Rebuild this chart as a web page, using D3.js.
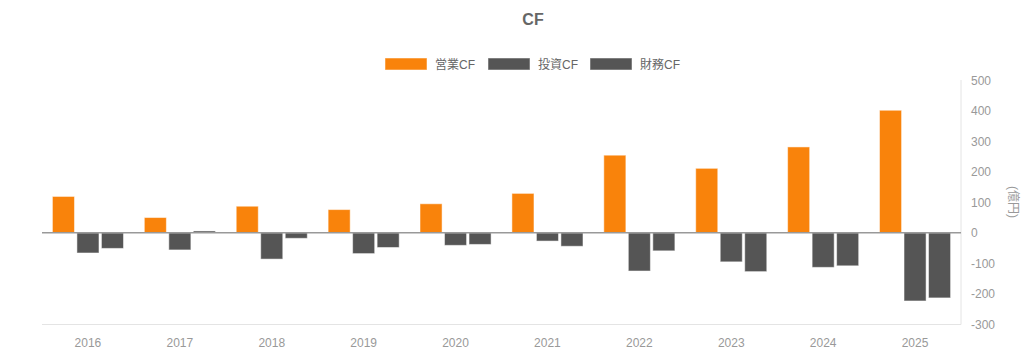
<!DOCTYPE html>
<html>
<head>
<meta charset="utf-8">
<script src="https://cdn.jsdelivr.net/npm/d3@7"></script>
<style>
  html,body{margin:0;padding:0;background:#fff;}
  svg{display:block;}
</style>
</head>
<body>
<svg id="chart" width="1024" height="355"></svg>
<script>
// data (億円)
const years=["2016","2017","2018","2019","2020","2021","2022","2023","2024","2025"];
const seriesNames=["営業CF","投資CF","財務CF"];
const operatingCF=[119,50,87,76,95,129,254,211,281,401];
const investingCF=[-66,-56,-86,-68,-41,-27,-125,-95,-113,-223];
const financingCF=[-51,6,-18,-48,-38,-44,-59,-127,-108,-213];
const yTicks=[500,400,300,200,100,0,-100,-200,-300];

const colors=["#f9830b","#555555","#555555"];
const FONT="'Liberation Sans', Arial, 'Noto Sans CJK JP', sans-serif";

const svg=d3.select("#chart");
const plot={left:42,right:961,top:80,bottom:324.5};

const x0=d3.scaleBand().domain(years).range([plot.left,plot.right]).padding(0);
const x1=d3.scaleBand().domain(seriesNames).range([0,x0.bandwidth()*0.8]);
const barW=x1.bandwidth()*0.9;
const y=d3.scaleLinear().domain([-300,500]).range([plot.bottom,plot.top]);

// title
svg.append("text").attr("x",533).attr("y",25)
  .attr("text-anchor","middle").attr("fill","#666")
  .style("font-family",FONT).style("font-size","16px").style("font-weight","bold")
  .text("CF");

// legend
const legendX=[385,488,590];
seriesNames.forEach((s,i)=>{
  const lg=svg.append("g").attr("transform",`translate(${legendX[i]},58)`);
  lg.append("rect").attr("width",42).attr("height",12)
    .attr("fill",colors[i]).attr("stroke","#fff").attr("stroke-opacity",0.5);
  lg.append("text").attr("x",50).attr("y",10.5).attr("fill","#666")
    .style("font-family",FONT).style("font-size","12px").text(s);
});

// bottom axis line and right axis line
svg.append("line").attr("x1",plot.left).attr("x2",plot.right)
  .attr("y1",y(-300)).attr("y2",y(-300)).attr("stroke","#e4e4e4").attr("stroke-width",1);
svg.append("line").attr("x1",plot.right).attr("x2",plot.right)
  .attr("y1",plot.top).attr("y2",y(-300)).attr("stroke","#e4e4e4").attr("stroke-width",1);

// right y axis tick labels
svg.append("g").selectAll("text.yt").data(yTicks).join("text").attr("class","yt")
  .attr("x",plot.right+10).attr("y",d=>y(d)+4.5)
  .attr("fill","#999")
  .style("font-family",FONT).style("font-size","12px")
  .text(d=>d);

// y axis title
svg.append("text").attr("transform",`translate(1009,202) rotate(90)`)
  .attr("text-anchor","middle").attr("fill","#999")
  .style("font-family",FONT).style("font-size","12px")
  .text("(億円)");

// x labels
svg.append("g").selectAll("text.xl").data(years).join("text").attr("class","xl")
  .attr("x",d=>x0(d)+x0.bandwidth()/2).attr("y",347)
  .attr("text-anchor","middle").attr("fill","#999")
  .style("font-family",FONT).style("font-size","12px")
  .text(d=>d);

// bars
const table=years.map((yr,i)=>({year:yr,values:[operatingCF[i],investingCF[i],financingCF[i]]}));
const groups=svg.append("g").selectAll("g.grp").data(table).join("g").attr("class","grp")
  .attr("transform",d=>`translate(${x0(d.year)+x0.bandwidth()*0.1},0)`);
groups.selectAll("rect").data(d=>d.values.map((v,i)=>({name:seriesNames[i],v,i}))).join("rect")
  .attr("x",d=>x1(d.name)+(x1.bandwidth()-barW)/2)
  .attr("width",barW)
  .attr("y",d=>y(Math.max(0,d.v)))
  .attr("height",d=>Math.abs(y(d.v)-y(0)))
  .attr("fill",d=>colors[d.i])
  .attr("stroke","#fff").attr("stroke-opacity",0.5).attr("stroke-width",1);

// zero line
svg.append("line").attr("x1",plot.left).attr("x2",plot.right)
  .attr("y1",y(0)).attr("y2",y(0)).attr("stroke","#999").attr("stroke-width",1.5);
</script>
</body>
</html>
